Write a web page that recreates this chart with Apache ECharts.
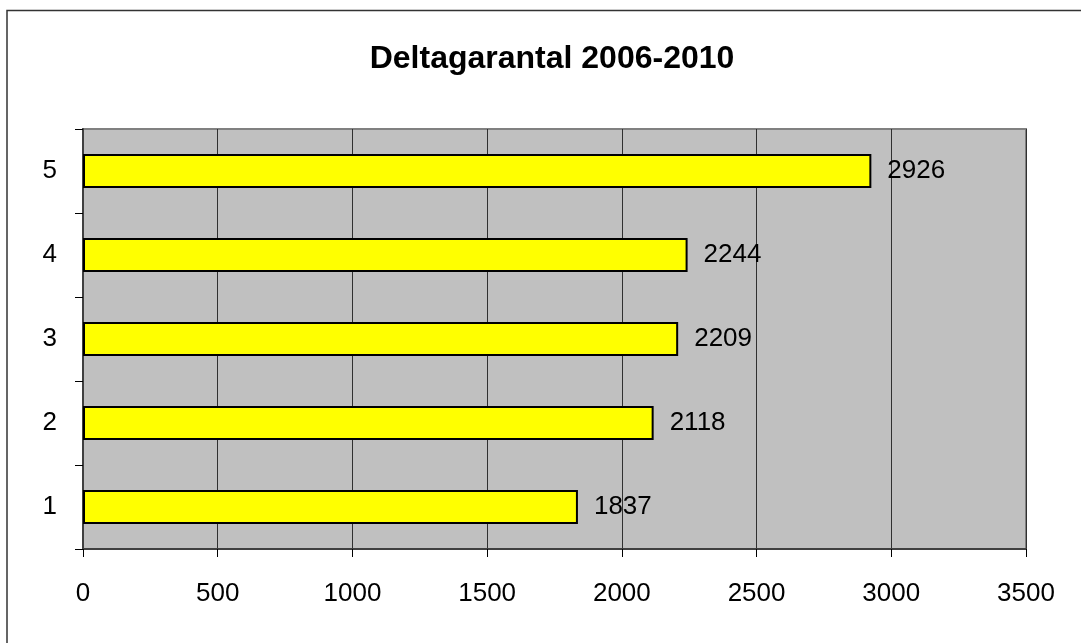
<!DOCTYPE html>
<html>
<head>
<meta charset="utf-8">
<script src="https://cdn.jsdelivr.net/npm/echarts@6/dist/echarts.min.js"></script>
<style>
  html, body { margin: 0; padding: 0; background: #fff; }
  #chart { width: 1081px; height: 643px; }
</style>
</head>
<body>
<div id="chart"></div>
<script>
const titleText = 'Deltagarantal 2006-2010';
const categories = ['1', '2', '3', '4', '5'];
const values = [1837, 2118, 2209, 2244, 2926];
const xTicks = { min: 0, max: 3500, interval: 500 };

const chart = echarts.init(document.getElementById('chart'));

chart.setOption({
  animation: false,
  backgroundColor: '#fff',
  textStyle: { fontFamily: 'Liberation Sans, Arial, sans-serif' },
  title: {
    text: titleText,
    left: 547,
    top: 38,
    textAlign: 'center',
    textStyle: { fontSize: 32, fontWeight: 'bold', color: '#000' }
  },
  graphic: [
    {
      type: 'polyline',
      shape: { points: [[7, 700], [7, 10.5], [1100, 10.5]] },
      style: { stroke: '#333', lineWidth: 1.5, fill: null },
      silent: true
    }
  ],
  grid: {
    left: 83,
    right: 55,
    top: 129,
    bottom: 94,
    show: true,
    backgroundColor: '#C0C0C0',
    borderColor: '#808080',
    borderWidth: 2
  },
  xAxis: {
    type: 'value',
    min: xTicks.min,
    max: xTicks.max,
    interval: xTicks.interval,
    axisLine: { show: true, lineStyle: { color: '#404040', width: 2 } },
    axisTick: { show: true, length: 8, lineStyle: { color: '#000', width: 1 } },
    axisLabel: { margin: 32, fontSize: 26, color: '#000', formatter: (v) => String(v) },
    splitLine: { show: true, lineStyle: { color: '#303030', width: 1 } }
  },
  yAxis: {
    type: 'category',
    data: categories,
    axisLine: { show: true, lineStyle: { color: '#404040', width: 2 } },
    axisTick: { show: true, length: 8, alignWithLabel: false, lineStyle: { color: '#000', width: 1 } },
    axisLabel: { margin: 26, fontSize: 26, color: '#000', padding: [4, 0, 0, 0] },
    splitLine: { show: false }
  },
  series: [
    {
      type: 'bar',
      data: values,
      barWidth: 34,
      itemStyle: { color: '#FFFF00', borderColor: '#000', borderWidth: 2 },
      label: {
        show: true,
        position: 'right',
        distance: 16,
        fontSize: 26,
        color: '#000',
        padding: [4, 0, 0, 0]
      }
    }
  ]
});
</script>
</body>
</html>
